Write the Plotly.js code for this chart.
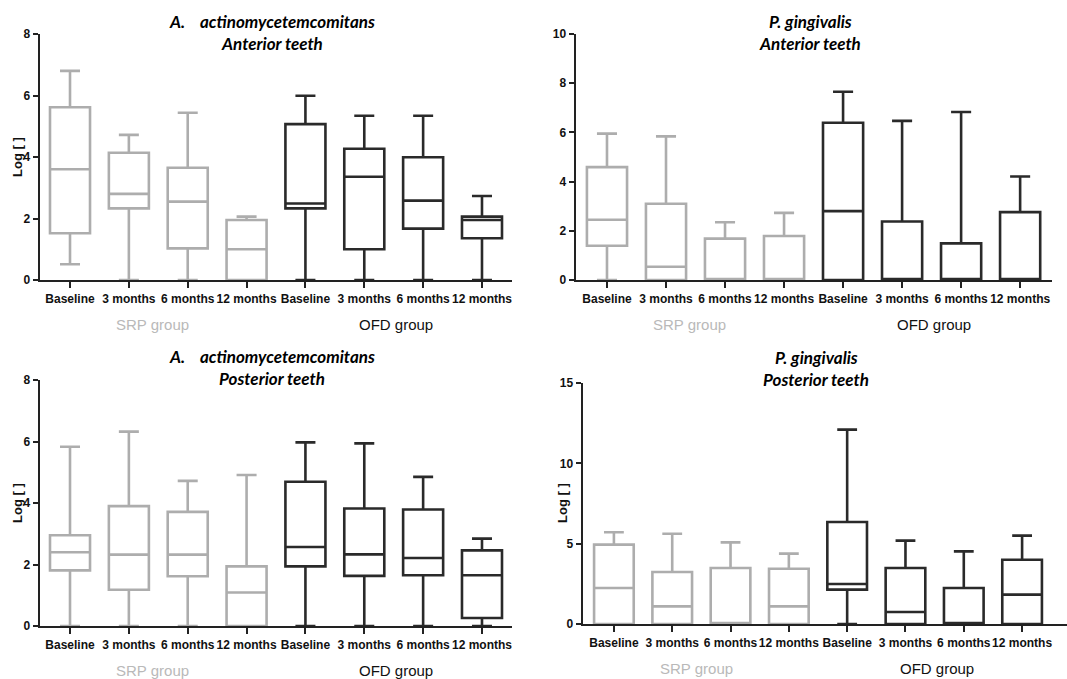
<!DOCTYPE html>
<html>
<head>
<meta charset="utf-8">
<script src="https://cdn.plot.ly/plotly-3.0.1.min.js"></script>
<style>html,body{margin:0;padding:0;background:#fff;}#chart{width:1067px;height:679px;}</style>
</head>
<body>
<div id="chart"></div>
<script>
// ---- categories ----
const timepoints = ["Baseline", "3 months", "6 months", "12 months"];
const groupNames = ["SRP group", "OFD group"];
const tickLabels = timepoints.concat(timepoints);
const srpPositions = [1, 2, 3, 4];
const ofdPositions = [5, 6, 7, 8];

// ---- A. actinomycetemcomitans, anterior teeth (SRP x4, OFD x4) ----
const aaAntLower  = [0.51, 0, 0, 0, 0, 0, 0, 0];
const aaAntQ1     = [1.52, 2.33, 1.03, 0, 2.33, 1.00, 1.67, 1.36];
const aaAntMedian = [3.60, 2.80, 2.55, 1.00, 2.49, 3.36, 2.58, 1.95];
const aaAntQ3     = [5.62, 4.14, 3.65, 1.95, 5.07, 4.27, 3.99, 2.06];
const aaAntUpper  = [6.80, 4.72, 5.44, 2.06, 5.99, 5.34, 5.34, 2.73];

// ---- P. gingivalis, anterior teeth ----
const pgAntLower  = [0, 0, 0, 0, 0, 0, 0, 0];
const pgAntQ1     = [1.39, 0, 0, 0, 0, 0, 0, 0];
const pgAntMedian = [2.45, 0.54, 0, 0, 2.80, 0, 0, 0];
const pgAntQ3     = [4.59, 3.10, 1.68, 1.79, 6.39, 2.38, 1.49, 2.76];
const pgAntUpper  = [5.95, 5.84, 2.35, 2.73, 7.65, 6.47, 6.83, 4.21];

// ---- A. actinomycetemcomitans, posterior teeth ----
const aaPostLower  = [0, 0, 0, 0, 0, 0, 0, 0];
const aaPostQ1     = [1.81, 1.18, 1.62, 0, 1.94, 1.63, 1.65, 0.26];
const aaPostMedian = [2.40, 2.32, 2.32, 1.09, 2.57, 2.33, 2.21, 1.65];
const aaPostQ3     = [2.95, 3.90, 3.71, 1.94, 4.69, 3.82, 3.79, 2.46];
const aaPostUpper  = [5.83, 6.32, 4.72, 4.91, 5.97, 5.94, 4.85, 2.84];

// ---- P. gingivalis, posterior teeth ----
const pgPostLower  = [0, 0, 0, 0, 0, 0, 0, 0];
const pgPostQ1     = [0, 0, 0, 0, 2.14, 0, 0, 0];
const pgPostMedian = [2.24, 1.10, 0, 1.10, 2.49, 0.75, 0, 1.83];
const pgPostQ3     = [4.94, 3.24, 3.49, 3.44, 6.35, 3.49, 2.24, 4.00];
const pgPostUpper  = [5.71, 5.62, 5.08, 4.38, 12.10, 5.19, 4.52, 5.50];

// ---- titles ----
const titles = [
  ["A.\u00A0\u00A0\u00A0\u00A0actinomycetemcomitans", "Anterior teeth"],
  ["P. gingivalis", "Anterior teeth"],
  ["A.\u00A0\u00A0\u00A0\u00A0actinomycetemcomitans", "Posterior teeth"],
  ["P. gingivalis", "Posterior teeth"]
];
const yTitle = "Log [ ]";

// ---- layout helpers ----
const W = 1067, H = 679;
const px = v => v / W;
const py = v => 1 - v / H;
const SRP_COLOR = "#adadad";
const OFD_COLOR = "#2a2a2a";
const SANS = "'Liberation Sans', Arial, sans-serif";

const panels = [
  {data: [aaAntLower, aaAntQ1, aaAntMedian, aaAntQ3, aaAntUpper],
   xd: [40, 512], yd: [280, 34], xr: [0.49, 8.51], yr: [0, 8], dtick: 2,
   titleX: 272, titleY: [21, 43], yTitlePos: [17, 157], groupX: [152, 396], groupY: 324},
  {data: [pgAntLower, pgAntQ1, pgAntMedian, pgAntQ3, pgAntUpper],
   xd: [576, 1052], yd: [280, 34], xr: [0.475, 8.54], yr: [0, 10], dtick: 2,
   titleX: 810, titleY: [21, 43], yTitlePos: null, groupX: [689, 934], groupY: 324},
  {data: [aaPostLower, aaPostQ1, aaPostMedian, aaPostQ3, aaPostUpper],
   xd: [40, 512], yd: [626, 380], xr: [0.49, 8.51], yr: [0, 8], dtick: 2,
   titleX: 272, titleY: [356, 378], yTitlePos: [17, 503], groupX: [152, 396], groupY: 670},
  {data: [pgPostLower, pgPostQ1, pgPostMedian, pgPostQ3, pgPostUpper],
   xd: [583, 1067], yd: [624, 383], xr: [0.47, 8.77], yr: [0, 15], dtick: 5,
   titleX: 816, titleY: [357, 379], yTitlePos: [562, 503], groupX: [696, 937], groupY: 668}
];

const traces = [];
const layout = {
  width: W, height: H,
  margin: {l: 0, r: 0, t: 0, b: 0},
  paper_bgcolor: "#fff", plot_bgcolor: "rgba(0,0,0,0)",
  showlegend: false,
  boxmode: "overlay",
  annotations: []
};

const tickFont = {family: SANS, size: 12, color: "#111", weight: "bold"};

panels.forEach((p, i) => {
  const n = i === 0 ? "" : String(i + 1);
  const xa = "x" + n, ya = "y" + n;
  const [lo, q1, med, q3, up] = p.data;
  const mk = (idx, pos, color, name) => ({
    type: "box", name: name, xaxis: xa, yaxis: ya,
    x: pos,
    lowerfence: idx.map(k => lo[k]), q1: idx.map(k => q1[k]),
    median: idx.map(k => med[k]), q3: idx.map(k => q3[k]),
    upperfence: idx.map(k => up[k]),
    width: 0.68, whiskerwidth: 0.5, boxpoints: false,
    line: {color: color, width: 2.6},
    fillcolor: "rgba(255,255,255,0)",
    hoverinfo: "skip"
  });
  traces.push(mk([0, 1, 2, 3], srpPositions, SRP_COLOR, groupNames[0]));
  traces.push(mk([4, 5, 6, 7], ofdPositions, OFD_COLOR, groupNames[1]));

  layout["xaxis" + n] = {
    domain: [px(p.xd[0]), Math.min(1, px(p.xd[1]))], range: p.xr,
    anchor: ya, showgrid: false, zeroline: false,
    showline: true, linecolor: "#222", linewidth: 2.4,
    ticks: "outside", ticklen: 6, tickwidth: 2, tickcolor: "#222",
    tickvals: srpPositions.concat(ofdPositions), ticktext: tickLabels,
    tickangle: 0, tickfont: tickFont, fixedrange: true
  };
  layout["yaxis" + n] = {
    domain: [py(p.yd[0]), py(p.yd[1])], range: p.yr,
    anchor: xa, showgrid: false, zeroline: false,
    showline: true, linecolor: "#222", linewidth: 2.4,
    ticks: "outside", ticklen: 5, tickwidth: 2, tickcolor: "#222",
    dtick: p.dtick, tick0: 0, tickfont: tickFont, fixedrange: true
  };

  // titles
  titles[i].forEach((t, j) => {
    layout.annotations.push({
      xref: "paper", yref: "paper", x: px(p.titleX), y: py(p.titleY[j]),
      xanchor: "center", yanchor: "middle", showarrow: false,
      text: "<b><i>" + t + "</i></b>",
      font: {family: "Lato, 'Open Sans', sans-serif", size: 17, color: "#000"}
    });
  });
  // y title
  if (p.yTitlePos) {
    layout.annotations.push({
      xref: "paper", yref: "paper", x: px(p.yTitlePos[0]), y: py(p.yTitlePos[1]),
      xanchor: "center", yanchor: "middle", showarrow: false, textangle: -90,
      text: "<b>" + yTitle + "</b>",
      font: {family: SANS, size: 13, color: "#111"}
    });
  }
  // group labels
  groupNames.forEach((g, j) => {
    layout.annotations.push({
      xref: "paper", yref: "paper", x: px(p.groupX[j]), y: py(p.groupY),
      xanchor: "center", yanchor: "middle", showarrow: false,
      text: g,
      font: {family: SANS, size: 15, color: j === 0 ? "#b9b9b9" : "#111"}
    });
  });
});

Plotly.newPlot("chart", traces, layout, {displayModeBar: false, staticPlot: true});
</script>
</body>
</html>
